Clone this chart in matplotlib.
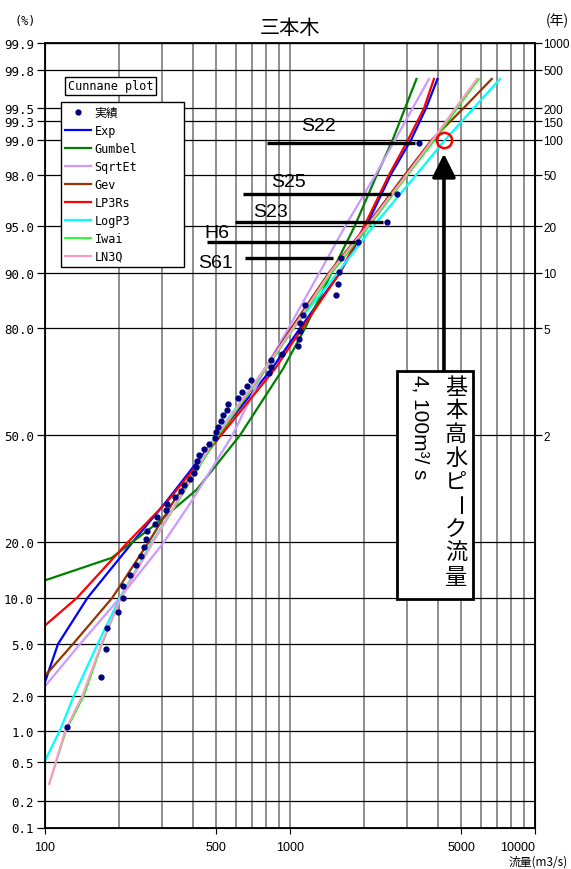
import numpy as np
import matplotlib
matplotlib.use('Agg')
import matplotlib.pyplot as plt
from matplotlib.patches import Rectangle
from matplotlib.ticker import NullLocator
from statistics import NormalDist

plt.rcParams['font.family'] = ['Liberation Sans', 'Noto Sans CJK JP', 'DejaVu Sans']
MONO = ['DejaVu Sans Mono', 'Noto Sans CJK JP']
JP = ['Noto Sans CJK JP', 'DejaVu Sans']

# observed annual maximum flows (m3/s), ascending
obs_q = [123, 169, 177, 179, 198, 208, 209, 222, 235, 247, 254, 258, 260, 280,
         286, 312, 316, 338, 358, 368, 390, 407, 415, 416, 426, 444, 468, 492,
         499, 509, 524, 534, 553, 561, 616, 639, 666, 692, 821, 834, 838, 925,
         1075, 1090, 1094, 1102, 1125, 1151, 1548, 1574, 1585, 1610, 1889, 2477,
         2742, 3362]

# fitted curves: flow (m3/s) and non-exceedance probability (%)
exp_p = [2.6, 5, 10, 20, 30, 50, 70, 80, 90, 95, 98, 99, 99.5, 99.75]
exp_q = [100, 113, 149, 228, 312, 508, 843, 1098, 1600, 2043, 2580, 3118, 3590, 4000]

gum_p = [12.65, 16.7, 24.0, 33.4, 50, 70, 80, 90, 95, 98, 99, 99.5, 99.75]
gum_q = [100, 187, 281, 416, 625, 937, 1151, 1478, 1834, 2265, 2623, 2947, 3283]

sqe_p = [2.4, 5, 10, 20, 30, 50, 70, 80, 90, 95, 98, 99, 99.5, 99.75]
sqe_q = [100, 139, 202, 306, 395, 582, 791, 985, 1320, 1677, 2238, 2683, 3165, 3690]

gev_p = [2.9, 5, 10, 20, 30, 50, 70, 80, 90, 95, 98, 99, 99.5, 99.75]
gev_q = [100, 130, 188, 265, 334, 515, 791, 1010, 1443, 2043, 2947, 3787, 5100, 6660]

lp3rs_p = [6.7, 10, 20, 30, 50, 70, 80, 90, 95, 98, 99, 99.5, 99.75]
lp3rs_q = [100, 135, 218, 315, 523, 869, 1119, 1600, 2005, 2540, 3031, 3523, 3869]

logp3_p = [0.52, 1, 2, 5, 10, 20, 30, 50, 70, 80, 90, 95, 98, 99, 99.5, 99.75]
logp3_q = [100, 115, 131, 164, 202, 273, 346, 498, 791, 1028, 1567, 2182, 3280, 4292, 5610, 7197]

iwai_p = [0.3, 1, 2, 5, 10, 20, 30, 50, 70, 80, 90, 95, 98, 99, 99.5, 99.75]
iwai_q = [104, 122, 144, 171, 204, 276, 349, 511, 800, 1038, 1484, 2100, 3033, 3900, 4810, 5900]

ln3q_p = [0.3, 1, 2, 5, 10, 20, 30, 50, 70, 80, 90, 95, 98, 99, 99.5, 99.75]
ln3q_q = [104, 121, 142, 170, 204, 276, 346, 503, 791, 1028, 1457, 2063, 2994, 3823, 4727, 5800]

curves = [
    ('Exp', exp_q, exp_p, '#0000ff'),
    ('Gumbel', gum_q, gum_p, '#008000'),
    ('SqrtEt', sqe_q, sqe_p, '#cc99ff'),
    ('Gev', gev_q, gev_p, '#993300'),
    ('LP3Rs', lp3rs_q, lp3rs_p, '#ff0000'),
    ('LogP3', logp3_q, logp3_p, '#00ffff'),
    ('Iwai', iwai_q, iwai_p, '#00ff00'),
    ('LN3Q', ln3q_q, ln3q_p, '#ff99cc'),
]

# historical floods marked on the plot (rank in the sorted record)
flood_names = ['S22', 'S25', 'S23', 'H6', 'S61']
flood_rank = [56, 55, 54, 53, 52]
flood_q_start = [803, 645, 596, 460, 655]
flood_q_end = [3237, 2576, 2390, 1842, 1503]
flood_label_q = [1313, 990, 829, 503, 498]
flood_label_p = [99.26, 97.70, 96.08, 94.45, 91.28]

design_q = 4250
design_p = 99.0

left_pct = [0.1, 0.2, 0.5, 1, 2, 5, 10, 20, 50, 80, 90, 95, 98, 99, 99.333, 99.5, 99.8, 99.9]
left_lbl = ['0.1', '0.2', '0.5', '1.0', '2.0', '5.0', '10.0', '20.0', '50.0', '80.0',
            '90.0', '95.0', '98.0', '99.0', '99.3', '99.5', '99.8', '99.9']
return_periods = [2, 5, 10, 20, 50, 100, 150, 200, 500, 1000]
x_major = [100, 500, 1000, 5000, 10000]

nd = NormalDist()
_ppf = np.vectorize(nd.inv_cdf, otypes=[float])
_cdf = np.vectorize(nd.cdf, otypes=[float])


def prob_fwd(p):
    p = np.clip(np.asarray(p, dtype=float) / 100.0, 1e-9, 1 - 1e-9)
    return _ppf(p)


def prob_inv(z):
    return _cdf(np.asarray(z, dtype=float)) * 100.0


fig = plt.figure(figsize=(5.71, 8.70), dpi=100)
ax = fig.add_axes([45 / 571, 41.5 / 870, 490 / 571, 784.5 / 870])

ax.set_xscale('log')
ax.set_yscale('function', functions=(prob_fwd, prob_inv))
ax.set_xlim(100, 10000)
ax.set_ylim(0.1, 99.9)

# grid
ax.set_xticks(x_major)
ax.set_xticklabels([str(v) for v in x_major])
ax.get_xticklabels()[-1].set_horizontalalignment('right')
x_minor = [k * 10 ** e for e in (2, 3) for k in range(2, 10) if k * 10 ** e not in x_major]
ax.set_xticks(x_minor, minor=True)
ax.set_xticklabels([], minor=True)
ax.grid(True, which='both', axis='x', color='#7a7a7a', lw=1.2)
ax.set_yticks(left_pct)
ax.set_yticklabels(left_lbl, family=MONO, fontsize=9)
ax.yaxis.set_minor_locator(NullLocator())
ax.grid(True, which='major', axis='y', color='black', lw=0.9)
ax.set_axisbelow(True)
ax.tick_params(axis='x', which='major', length=4, labelsize=9, pad=6)
ax.tick_params(axis='x', which='minor', length=0)
ax.tick_params(axis='y', length=6, width=0.9, pad=2)
for s in ax.spines.values():
    s.set_linewidth(1.3)

ax2 = ax.twinx()
ax2.set_yscale('function', functions=(prob_fwd, prob_inv))
ax2.set_ylim(0.1, 99.9)
ax2.set_yticks([100 * (1 - 1 / t) for t in return_periods])
ax2.set_yticklabels([str(t) for t in return_periods], fontsize=8.5)
ax2.yaxis.set_minor_locator(NullLocator())
ax2.tick_params(axis='y', length=5, width=0.9, pad=1)

# fitted distributions
handles = {}
for name, q, p, col in curves:
    lw = 1.2 if name == 'Iwai' else 1.6
    h, = ax.plot(q, p, color=col, lw=lw, label=name, zorder=3)
    handles[name] = h

# observed, Cunnane plotting position
n = len(obs_q)
obs_p = [(i - 0.4) / (n + 0.2) * 100 for i in range(1, n + 1)]
hobs, = ax.plot(obs_q, obs_p, 'o', color='#000080', ms=3.5, label='実績', zorder=6)

# historical flood bars
for name, r, q0, q1, lq, lp in zip(flood_names, flood_rank, flood_q_start,
                                   flood_q_end, flood_label_q, flood_label_p):
    ax.hlines(obs_p[r - 1], q0, q1, color='black', lw=2.4, zorder=4)
    ax.text(lq, lp, name, ha='center', va='center', fontsize=14, zorder=7)

# design flood
ax.plot(design_q, design_p, 'o', mfc='none', mec='red', ms=11, mew=1.8, zorder=7)
ax.annotate('', xy=(design_q, 98.67), xytext=(design_q, 69.4),
            arrowprops=dict(arrowstyle='-|>', mutation_scale=36, lw=2.6,
                            color='black', shrinkA=0, shrinkB=0), zorder=7)
ax.add_patch(Rectangle((2727, 9.9), 5600 - 2727, 69.5 - 9.9, facecolor='white',
                       edgecolor='black', lw=2, zorder=8))
ax.text(3393, 68.6, '4, 100m³/ s', rotation=-90, ha='center', va='top',
        fontsize=15, zorder=9)
for i, ch in enumerate('基本高水ピーク流量'):
    ax.annotate(ch, xy=(4761, 68.6), xytext=(0, -9 - i * 17.1),
                textcoords='offset points', ha='center', va='center',
                rotation=-90 if ch == 'ー' else 0, fontsize=16,
                family=JP, zorder=9)

# legend
ax.text(0.1337, 0.9452, 'Cunnane plot', transform=ax.transAxes, ha='center',
        va='center', family=MONO, fontsize=8.5, zorder=9,
        bbox=dict(boxstyle='square,pad=0.25', fc='white', ec='black', lw=1))
order = [hobs] + [handles[c[0]] for c in curves]
leg = ax.legend(handles=order, loc='upper left',
                bbox_to_anchor=(0.0327, 0.7119, 0.251, 0.2129), mode='expand',
                borderaxespad=0, prop={'family': MONO, 'size': 8.5},
                fancybox=False, edgecolor='black', framealpha=1,
                handlelength=2.2, handletextpad=0.3, labelspacing=0.42,
                borderpad=0.35, numpoints=1)
leg.get_frame().set_linewidth(1.0)
leg.set_zorder(9)

fig.text(290 / 571, 1 - 29 / 870, '三本木', ha='center', va='center',
         fontsize=14.5, family=JP)
fig.text(25 / 571, 1 - 22 / 870, '(%)', ha='center', va='center',
         family=MONO, fontsize=8.5)
fig.text(569 / 571, 1 - 21 / 870, '(年)', ha='right', va='center',
         family=JP, fontsize=10)
fig.text(568 / 571, 1 - 862 / 870, '流量(m3/s)', ha='right', va='center',
         family=JP, fontsize=8.5)

fig.savefig('out.png', dpi=100)
